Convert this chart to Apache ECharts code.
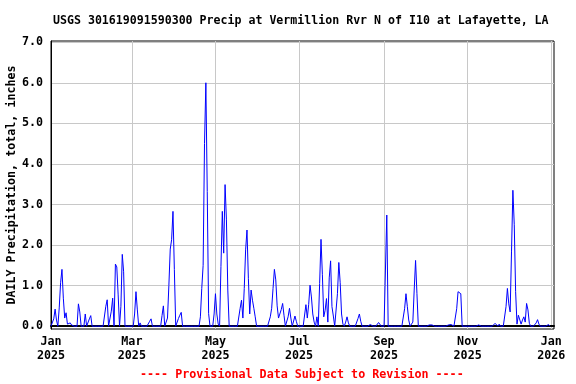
<!DOCTYPE html>
<html><head><meta charset="utf-8">
<script src="https://cdn.jsdelivr.net/npm/echarts@6/dist/echarts.min.js"></script>
<style>html,body{margin:0;padding:0;background:#fff}#c{width:576px;height:384px}</style>
</head><body><div id="c"></div>
<script>
// Day offsets from 2025-01-01 for month tick marks
const monthTickDays = [0, 59, 120, 181, 243, 304, 365];
const monthTickLabels = ['Jan\n2025', 'Mar\n2025', 'May\n2025', 'Jul\n2025', 'Sep\n2025', 'Nov\n2025', 'Jan\n2026'];
const yTickValues = [0, 1, 2, 3, 4, 5, 6, 7];
const daysInYear = 365;
// Days (offset from Jan 1 2025) with non-zero precipitation, and their daily totals (inches)
const rainDays = [
  2,3,4,6,7,8,9,10,11,12,13,14,15,20,21,25,28,29,
  40,41,44,45,47,48,49,51,52,53,61,62,63,65,72,73,81,82,
  85,86,87,88,89,90,93,94,95,
  109,110,111,112,113,114,115,119,120,121,122,124,125,126,127,128,129,
  138,139,140,141,142,143,144,145,146,147,148,149,
  160,161,162,163,164,165,166,167,168,169,170,173,174,175,178,179,
  186,187,188,189,190,191,192,194,196,197,198,199,200,201,202,203,204,205,206,
  209,210,211,212,213,215,216,217,224,225,226,230,233,234,236,239,240,
  244,245,258,259,260,261,264,265,266,267,276,277,278,290,292,293,
  296,297,298,299,312,324,325,327,
  332,333,334,335,336,337,338,339,340,341,342,343,344,345,346,347,348,349,
  354,355,356,358,360,362,363
];
const rainValues = [
  0.18,0.42,0.15,0.45,1.07,1.40,0.69,0.20,0.33,0.05,0.05,0.08,0.03,0.55,0.35,0.30,0.18,0.26,
  0.49,0.65,0.37,0.69,1.53,1.46,0.77,0.49,1.77,1.34,0.30,0.85,0.40,0.08,0.12,0.18,0.26,0.50,
  0.20,1.00,1.90,2.13,2.83,1.40,0.19,0.27,0.34,
  0.23,0.93,1.50,4.50,6.00,3.32,0.31,0.30,0.80,0.30,0.05,1.47,2.83,1.80,3.49,2.62,0.89,
  0.44,0.64,0.20,0.93,1.88,2.37,1.18,0.30,0.89,0.64,0.44,0.23,
  0.23,0.44,0.93,1.40,1.14,0.50,0.20,0.23,0.41,0.56,0.27,0.23,0.44,0.20,0.25,0.12,
  0.53,0.20,0.53,1.01,0.72,0.30,0.10,0.23,1.05,2.14,1.28,0.23,0.39,0.68,0.10,1.19,1.61,0.48,0.25,
  0.80,1.57,1.07,0.30,0.05,0.10,0.23,0.08,0.19,0.30,0.12,0.03,0.04,0.05,0.03,0.09,0.05,
  1.36,2.74,0.43,0.80,0.48,0.15,0.10,0.89,1.62,0.80,0.03,0.05,0.03,0.03,0.04,0.07,
  0.43,0.85,0.84,0.80,0.03,0.07,0.03,0.05,
  0.48,0.93,0.55,0.35,1.83,3.35,2.50,0.85,0.05,0.27,0.31,0.05,0.15,0.23,0.10,0.56,0.40,0.07,
  0.08,0.16,0.05,0.03,0.04,0.03,0.04
];

const rainMap = {};
rainDays.forEach((d, i) => { rainMap[d] = rainValues[i]; });
const seriesData = [];
for (let d = 0; d < daysInYear; d++) seriesData.push([d, rainMap[d] || 0]);

const FONT = 'DejaVu Sans Mono';
const chart = echarts.init(document.getElementById('c'), null, { renderer: 'canvas' });
chart.setOption({
  animation: false,
  backgroundColor: '#ffffff',
  title: [{
    text: 'USGS 301619091590300 Precip at Vermillion Rvr N of I10 at Lafayette, LA',
    left: 53, top: 14, padding: 0,
    textStyle: { fontFamily: FONT, fontWeight: 'bold', fontSize: 11.6, color: '#000', lineHeight: 14 }
  }, {
    text: '---- Provisional Data Subject to Revision ----',
    left: 140, top: 368, padding: 0,
    textStyle: { fontFamily: FONT, fontWeight: 'bold', fontSize: 11.7, color: '#ff0000', lineHeight: 14 }
  }],
  grid: { left: 51, top: 41, width: 503, height: 288, show: true, borderColor: '#000', borderWidth: 1,
          backgroundColor: 'transparent', containLabel: false, outerBoundsMode: 'none' },
  xAxis: {
    type: 'value', min: 0, max: 367,
    axisLine: { show: true, lineStyle: { color: '#000', width: 2 } },
    axisTick: { show: false, customValues: monthTickDays },
    axisLabel: {
      customValues: monthTickDays,
      formatter: v => monthTickLabels[monthTickDays.indexOf(v)] || '',
      fontFamily: FONT, fontWeight: 'bold', fontSize: 11.7, color: '#000', lineHeight: 14, margin: 6,
      showMinLabel: true, showMaxLabel: true, hideOverlap: false
    },
    splitLine: { show: true, lineStyle: { color: '#c8c8c8', width: 1 } }
  },
  yAxis: {
    type: 'value', min: -0.07, max: 7.03,
    name: 'DAILY Precipitation, total, inches',
    nameLocation: 'middle', nameGap: 33, nameMoveOverlap: false,
    nameTextStyle: { fontFamily: FONT, fontWeight: 'bold', fontSize: 11.7, color: '#000' },
    axisLine: { show: true, lineStyle: { color: '#000', width: 1 } },
    axisTick: { show: false, customValues: yTickValues },
    axisLabel: {
      customValues: yTickValues,
      formatter: v => v.toFixed(1),
      fontFamily: FONT, fontWeight: 'bold', fontSize: 11.7, color: '#000', margin: 8
    },
    splitLine: { show: true, lineStyle: { color: '#c8c8c8', width: 1 } }
  },
  series: [{
    type: 'line',
    data: seriesData,
    showSymbol: false,
    symbol: 'none',
    lineStyle: { color: '#0000ff', width: 1 },
    z: 3
  }]
});
</script></body></html>
